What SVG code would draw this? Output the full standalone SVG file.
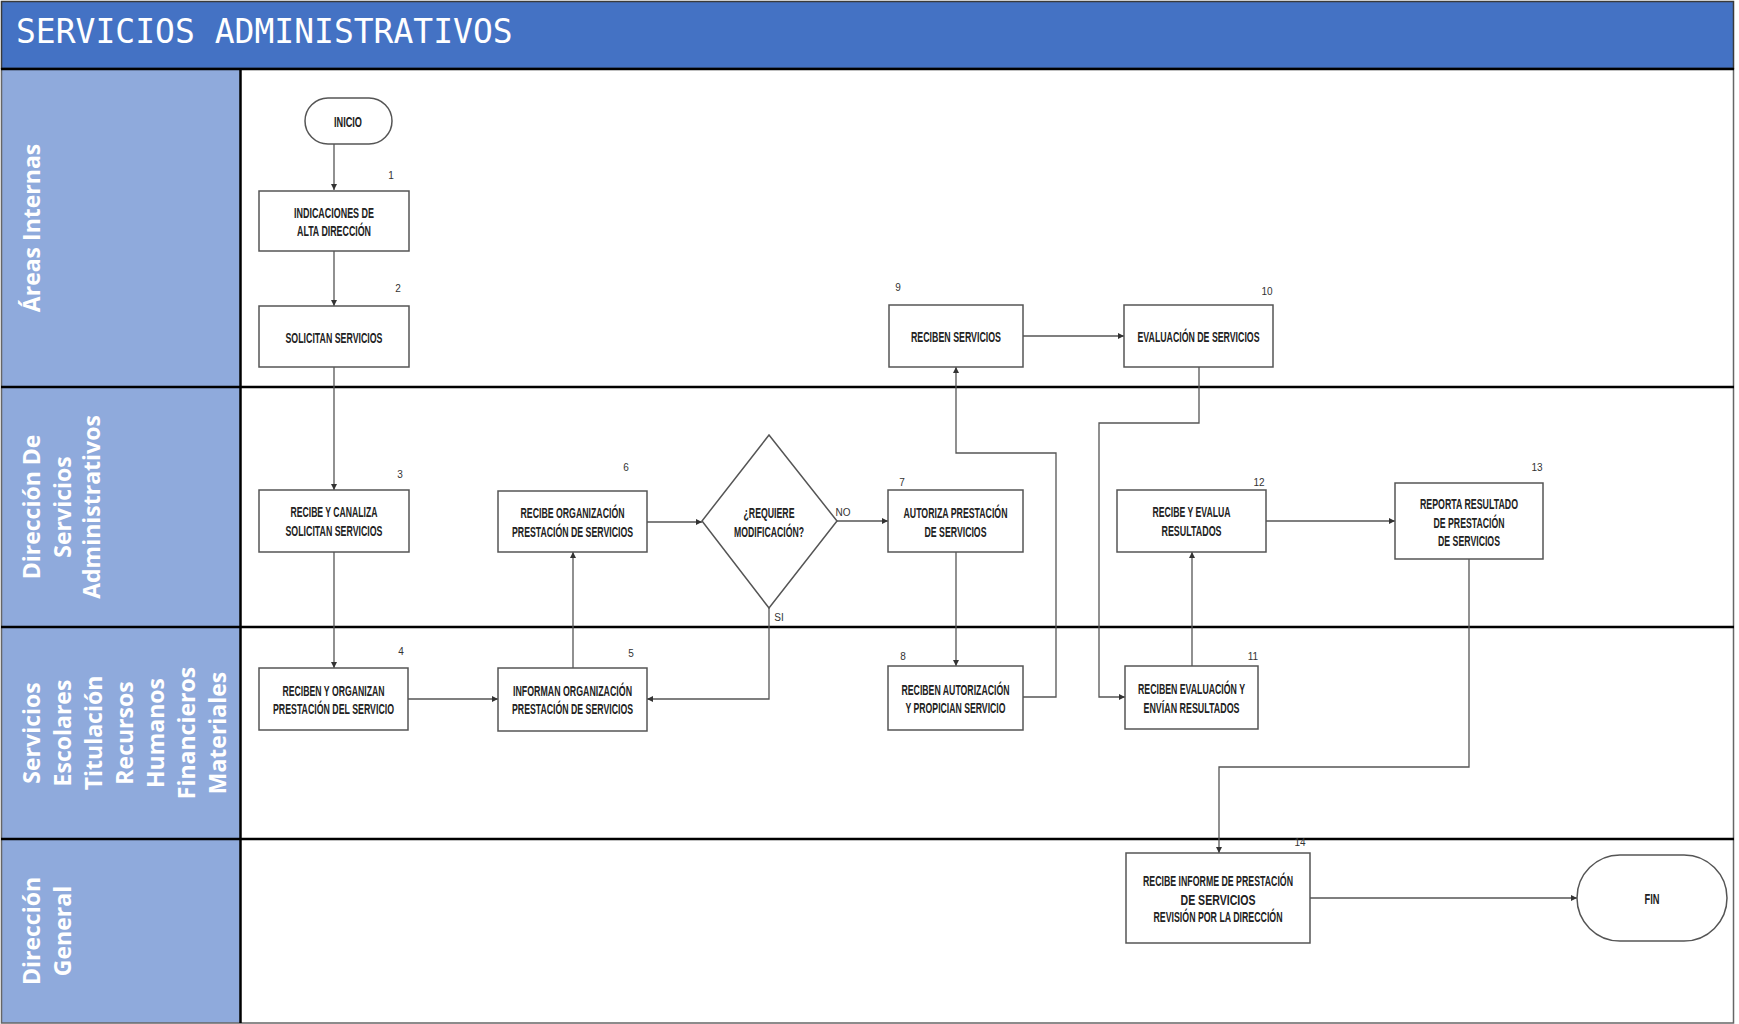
<svg xmlns="http://www.w3.org/2000/svg" width="1739" height="1024" viewBox="0 0 1739 1024">
<style>
.lane{font-family:"Open Sans","DejaVu Sans",sans-serif;font-weight:bold;font-size:23px;fill:#ffffff;text-anchor:middle}
.box{fill:#ffffff;stroke:#555555;stroke-width:1.5}
.t{font-family:"Liberation Sans",Arial,sans-serif;font-weight:bold;font-size:15px;fill:#222222;text-anchor:middle}
.n{font-family:"Liberation Sans",Arial,sans-serif;font-size:10px;fill:#333333;text-anchor:middle}
.c{fill:none;stroke:#555555;stroke-width:1.3}
.sep{stroke:#000000;stroke-width:2.5}
</style>
<defs>
<marker id="ah" markerUnits="userSpaceOnUse" markerWidth="8" markerHeight="8" refX="6" refY="3" orient="auto">
<path d="M0,0 L6,3 L0,6 z" fill="#333333"/>
</marker>
</defs>
<rect x="0" y="0" width="1739" height="1024" fill="#ffffff"/>
<g id="header">
<rect x="1.5" y="1.5" width="1732" height="67" fill="#4472C4" stroke="#3a3a3a" stroke-width="1.5"/>
<text x="16" y="43" font-family="'DejaVu Sans Mono','Liberation Mono',monospace" font-size="33" fill="#ffffff">SERVICIOS ADMINISTRATIVOS</text>
</g>
<g id="lanes">
<rect x="1.5" y="69" width="239" height="954" fill="#8FAADC"/>
<rect x="1.5" y="69" width="1732" height="954" fill="none" stroke="#666666" stroke-width="1.5"/>
<line x1="240.5" y1="69" x2="240.5" y2="1023" class="sep" stroke-width="2"/>
<line x1="1" y1="69" x2="1734" y2="69" class="sep" stroke-width="2"/>
<line x1="1" y1="387" x2="1734" y2="387" class="sep"/>
<line x1="1" y1="627" x2="1734" y2="627" class="sep"/>
<line x1="1" y1="839" x2="1734" y2="839" class="sep"/>
<text class="lane" transform="translate(40,228) rotate(-90)">Áreas Internas</text>
<text class="lane" transform="translate(40,507) rotate(-90)">Dirección De</text>
<text class="lane" transform="translate(71,507) rotate(-90)">Servicios</text>
<text class="lane" transform="translate(100,507) rotate(-90)">Administrativos</text>
<text class="lane" transform="translate(40,733) rotate(-90)">Servicios</text>
<text class="lane" transform="translate(71,733) rotate(-90)">Escolares</text>
<text class="lane" transform="translate(102,733) rotate(-90)">Titulación</text>
<text class="lane" transform="translate(133,733) rotate(-90)">Recursos</text>
<text class="lane" transform="translate(164,733) rotate(-90)">Humanos</text>
<text class="lane" transform="translate(195,733) rotate(-90)">Financieros</text>
<text class="lane" transform="translate(226,733) rotate(-90)">Materiales</text>
<text class="lane" transform="translate(40,931) rotate(-90)">Dirección</text>
<text class="lane" transform="translate(71,931) rotate(-90)">General</text>
</g>
<g id="connectors">
<path class="c" marker-end="url(#ah)" d="M334,144 V190"/>
<path class="c" marker-end="url(#ah)" d="M334,251 V306"/>
<path class="c" marker-end="url(#ah)" d="M334,367 V490"/>
<path class="c" marker-end="url(#ah)" d="M334,552 V668"/>
<path class="c" marker-end="url(#ah)" d="M408,699 H498"/>
<path class="c" marker-end="url(#ah)" d="M573,668 V552"/>
<path class="c" marker-end="url(#ah)" d="M647,522 H702"/>
<path class="c" marker-end="url(#ah)" d="M837,521 H888"/>
<path class="c" marker-end="url(#ah)" d="M769,608 V699 H647"/>
<path class="c" marker-end="url(#ah)" d="M956,552 V666"/>
<path class="c" marker-end="url(#ah)" d="M1023,697 H1056 V453 H956 V367"/>
<path class="c" marker-end="url(#ah)" d="M1023,336 H1124"/>
<path class="c" marker-end="url(#ah)" d="M1199,367 V423 H1099 V697 H1125"/>
<path class="c" marker-end="url(#ah)" d="M1192,666 V552"/>
<path class="c" marker-end="url(#ah)" d="M1266,521 H1395"/>
<path class="c" marker-end="url(#ah)" d="M1469,559 V767 H1219 V853"/>
<path class="c" marker-end="url(#ah)" d="M1310,898 H1577"/>
<text class="n" x="843" y="516" font-size="8">NO</text>
<text class="n" x="779" y="621" font-size="8">SI</text>
</g>
<g id="inicio">
<rect class="box" x="305" y="98" width="87" height="46" rx="23"/>
<text class="t" x="348" y="127" textLength="28" lengthAdjust="spacingAndGlyphs" font-size="14">INICIO</text>
</g>
<g id="n1">
<rect class="box" x="259" y="191" width="150" height="60"/>
<text class="n" x="391" y="179">1</text>
<text class="t" x="334" y="218" textLength="80" lengthAdjust="spacingAndGlyphs">INDICACIONES DE</text>
<text class="t" x="334" y="236" textLength="74" lengthAdjust="spacingAndGlyphs">ALTA DIRECCIÓN</text>
</g>
<g id="n2">
<rect class="box" x="259" y="306" width="150" height="61"/>
<text class="n" x="398" y="292">2</text>
<text class="t" x="334" y="343" textLength="97" lengthAdjust="spacingAndGlyphs">SOLICITAN SERVICIOS</text>
</g>
<g id="n3">
<rect class="box" x="259" y="490" width="150" height="62"/>
<text class="n" x="400" y="478">3</text>
<text class="t" x="334" y="517" textLength="87" lengthAdjust="spacingAndGlyphs">RECIBE Y CANALIZA</text>
<text class="t" x="334" y="536" textLength="97" lengthAdjust="spacingAndGlyphs">SOLICITAN SERVICIOS</text>
</g>
<g id="n4">
<rect class="box" x="259" y="668" width="149" height="62"/>
<text class="n" x="401" y="655">4</text>
<text class="t" x="333.5" y="696" textLength="102" lengthAdjust="spacingAndGlyphs">RECIBEN Y ORGANIZAN</text>
<text class="t" x="333.5" y="714" textLength="121" lengthAdjust="spacingAndGlyphs">PRESTACIÓN DEL SERVICIO</text>
</g>
<g id="n5">
<rect class="box" x="498" y="668" width="149" height="63"/>
<text class="n" x="631" y="657">5</text>
<text class="t" x="572.5" y="696" textLength="119" lengthAdjust="spacingAndGlyphs">INFORMAN ORGANIZACIÓN</text>
<text class="t" x="572.5" y="714" textLength="121" lengthAdjust="spacingAndGlyphs">PRESTACIÓN DE SERVICIOS</text>
</g>
<g id="n6">
<rect class="box" x="498" y="491" width="149" height="61"/>
<text class="n" x="626" y="471">6</text>
<text class="t" x="572.5" y="518" textLength="104" lengthAdjust="spacingAndGlyphs">RECIBE ORGANIZACIÓN</text>
<text class="t" x="572.5" y="537" textLength="121" lengthAdjust="spacingAndGlyphs">PRESTACIÓN DE SERVICIOS</text>
</g>
<g id="decision">
<polygon class="box" points="769,435 837,521 769,608 702,521"/>
<text class="t" x="769" y="518" textLength="51" lengthAdjust="spacingAndGlyphs">¿REQUIERE</text>
<text class="t" x="769" y="537" textLength="70" lengthAdjust="spacingAndGlyphs">MODIFICACIÓN?</text>
</g>
<g id="n7">
<rect class="box" x="888" y="490" width="135" height="62"/>
<text class="n" x="902" y="486">7</text>
<text class="t" x="955.5" y="518" textLength="104" lengthAdjust="spacingAndGlyphs">AUTORIZA PRESTACIÓN</text>
<text class="t" x="955.5" y="537" textLength="62" lengthAdjust="spacingAndGlyphs">DE SERVICIOS</text>
</g>
<g id="n8">
<rect class="box" x="888" y="666" width="135" height="64"/>
<text class="n" x="903" y="660">8</text>
<text class="t" x="955.5" y="695" textLength="108" lengthAdjust="spacingAndGlyphs">RECIBEN AUTORIZACIÓN</text>
<text class="t" x="955.5" y="713" textLength="100" lengthAdjust="spacingAndGlyphs">Y PROPICIAN SERVICIO</text>
</g>
<g id="n9">
<rect class="box" x="889" y="305" width="134" height="62"/>
<text class="n" x="898" y="291">9</text>
<text class="t" x="956" y="342" textLength="90" lengthAdjust="spacingAndGlyphs">RECIBEN SERVICIOS</text>
</g>
<g id="n10">
<rect class="box" x="1124" y="305" width="149" height="62"/>
<text class="n" x="1267" y="295">10</text>
<text class="t" x="1198.5" y="342" textLength="122" lengthAdjust="spacingAndGlyphs">EVALUACIÓN DE SERVICIOS</text>
</g>
<g id="n11">
<rect class="box" x="1125" y="666" width="133" height="63"/>
<text class="n" x="1253" y="660">11</text>
<text class="t" x="1191.5" y="694" textLength="107" lengthAdjust="spacingAndGlyphs">RECIBEN EVALUACIÓN Y</text>
<text class="t" x="1191.5" y="713" textLength="96" lengthAdjust="spacingAndGlyphs">ENVÍAN RESULTADOS</text>
</g>
<g id="n12">
<rect class="box" x="1117" y="490" width="149" height="62"/>
<text class="n" x="1259" y="486">12</text>
<text class="t" x="1191.5" y="517" textLength="78" lengthAdjust="spacingAndGlyphs">RECIBE Y EVALUA</text>
<text class="t" x="1191.5" y="536" textLength="60" lengthAdjust="spacingAndGlyphs">RESULTADOS</text>
</g>
<g id="n13">
<rect class="box" x="1395" y="483" width="148" height="76"/>
<text class="n" x="1537" y="471">13</text>
<text class="t" x="1469" y="509" textLength="98" lengthAdjust="spacingAndGlyphs">REPORTA RESULTADO</text>
<text class="t" x="1469" y="528" textLength="71" lengthAdjust="spacingAndGlyphs">DE PRESTACIÓN</text>
<text class="t" x="1469" y="546" textLength="62" lengthAdjust="spacingAndGlyphs">DE SERVICIOS</text>
</g>
<g id="n14">
<rect class="box" x="1126" y="853" width="184" height="90"/>
<text class="n" x="1300" y="846">14</text>
<text class="t" x="1218" y="886" textLength="150" lengthAdjust="spacingAndGlyphs">RECIBE INFORME DE PRESTACIÓN</text>
<text class="t" x="1218" y="905" textLength="75" lengthAdjust="spacingAndGlyphs">DE SERVICIOS</text>
<text class="t" x="1218" y="922" textLength="129" lengthAdjust="spacingAndGlyphs">REVISIÓN POR LA DIRECCIÓN</text>
</g>
<g id="fin">
<rect class="box" x="1577" y="855" width="150" height="86" rx="43"/>
<text class="t" x="1652" y="904" textLength="15" lengthAdjust="spacingAndGlyphs">FIN</text>
</g>
</svg>
